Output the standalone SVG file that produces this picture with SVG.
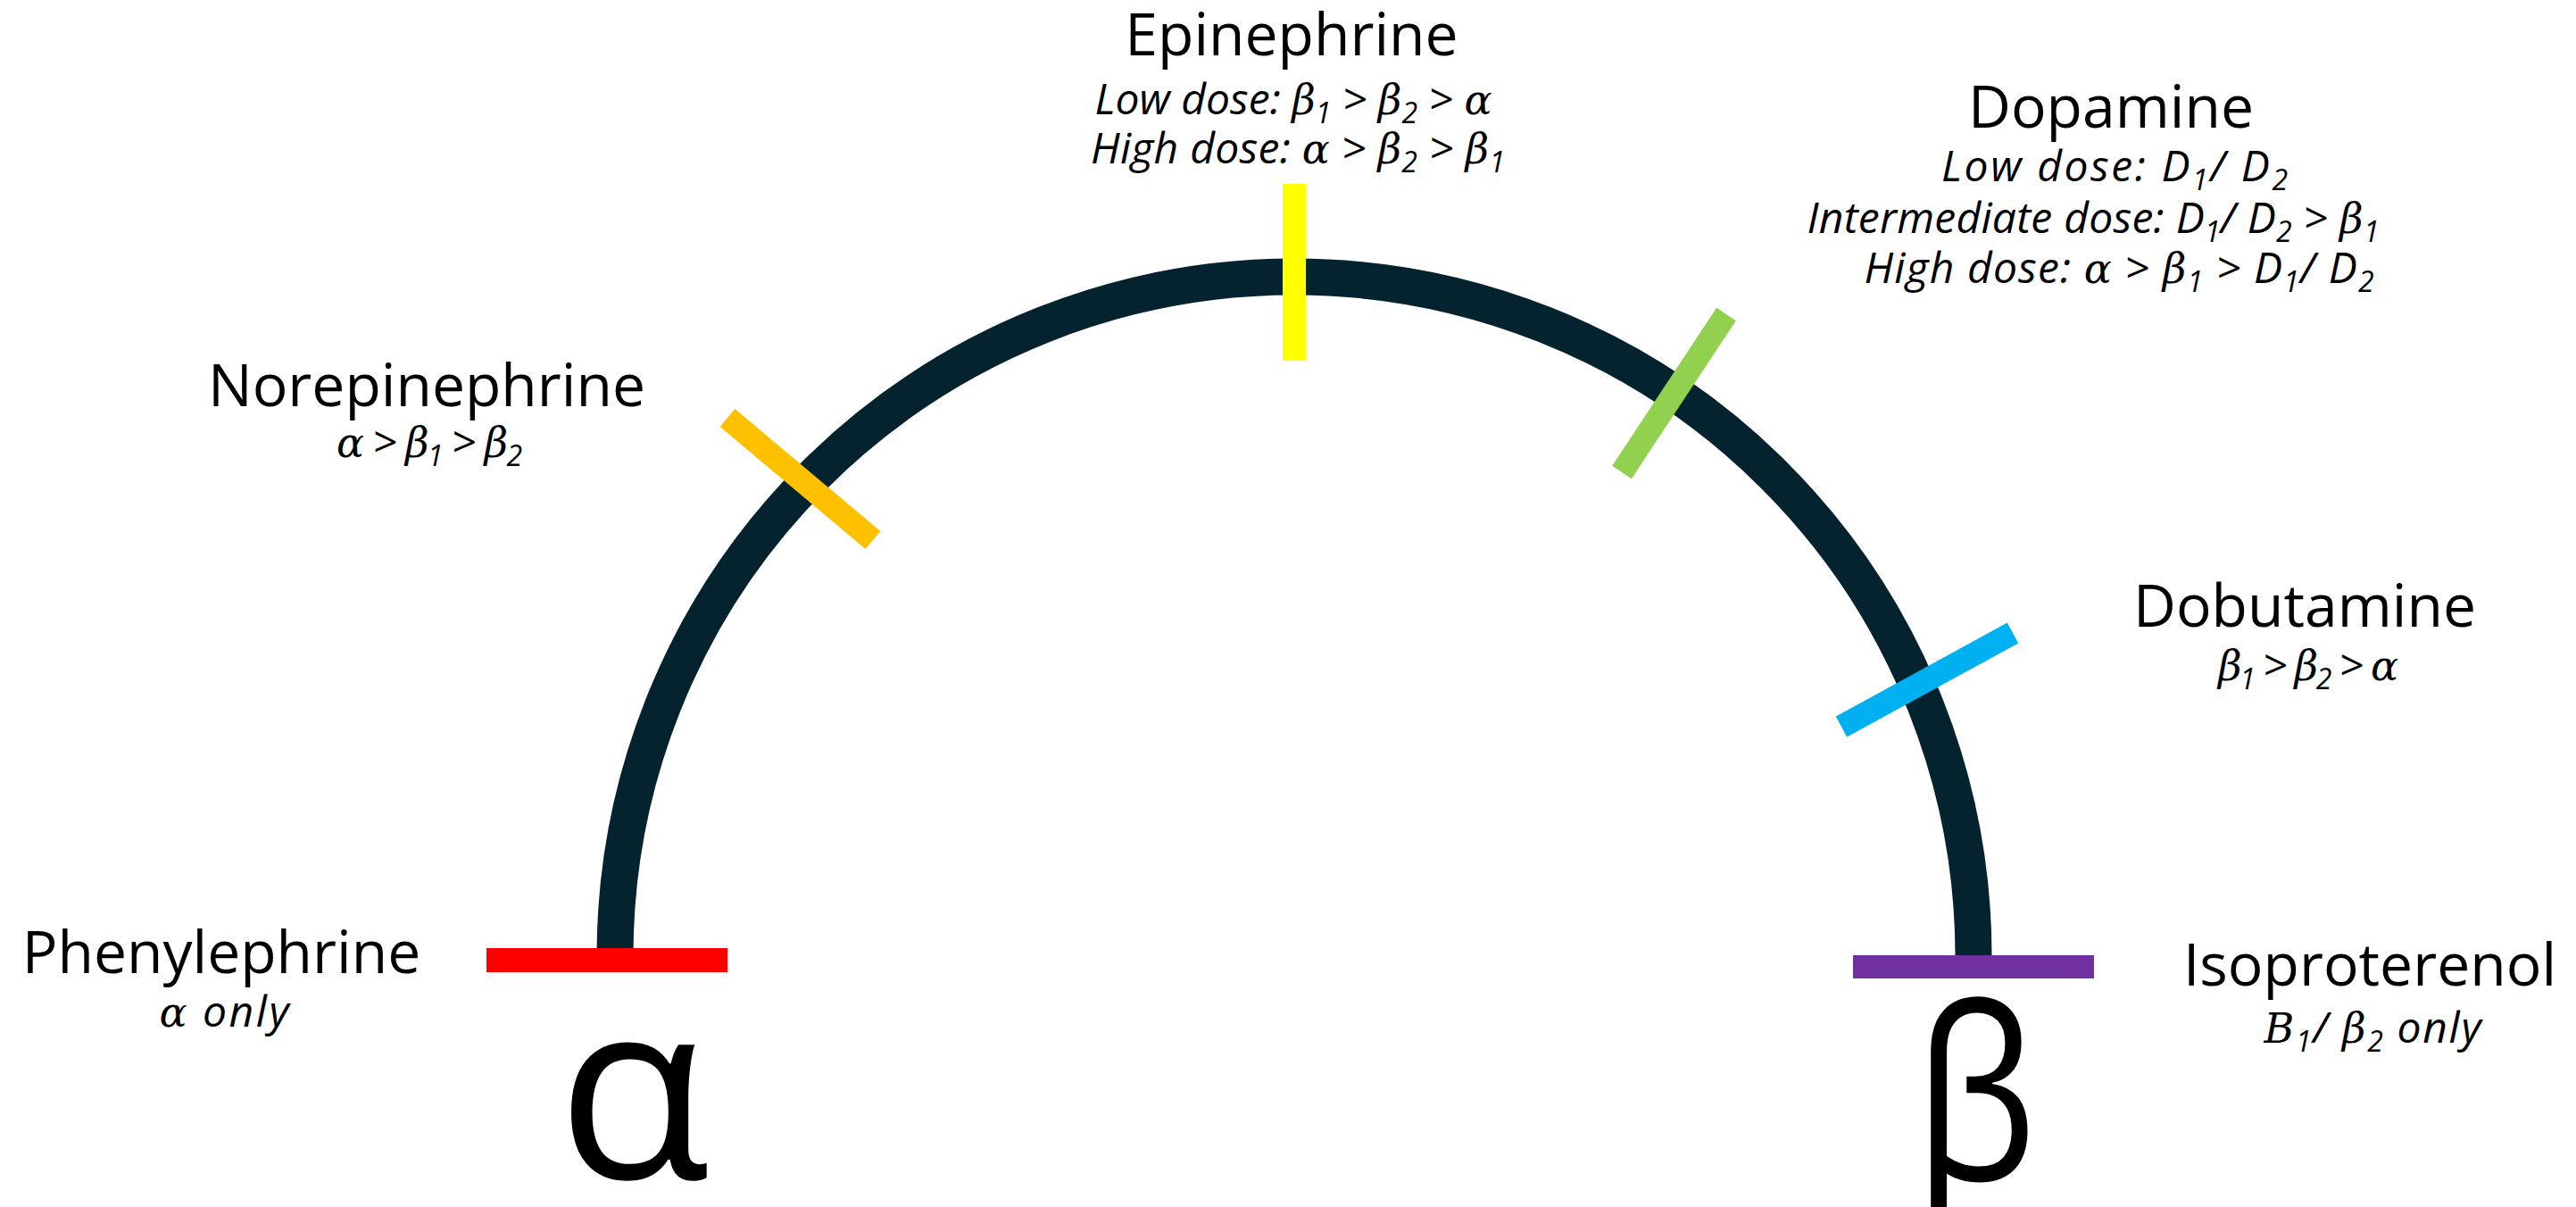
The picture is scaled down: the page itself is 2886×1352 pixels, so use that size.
<svg xmlns="http://www.w3.org/2000/svg" width="2886" height="1352" viewBox="0 0 2886 1352">
<style>
.t{font-family:"Open Sans","Liberation Sans",sans-serif;font-size:66px;fill:#000;text-anchor:middle}
.s{font-family:"Open Sans","Liberation Sans",sans-serif;font-style:italic;font-size:48px;fill:#000;text-anchor:middle}
.g{font-family:"DejaVu Serif","Liberation Serif",serif;font-style:italic;font-size:46px}
.n{font-size:32px}
.big{font-family:"Open Sans","Noto Sans",sans-serif;font-size:280px;fill:#000;text-anchor:middle}
.bar{stroke-width:26;stroke-linecap:butt;fill:none}
</style>
<rect width="2886" height="1352" fill="#fff"/>
<g id="connectors">
<path id="arc" d="M 689 1071 A 761 761 0 0 1 2211 1071" fill="none" stroke="#05222F" stroke-width="41"/>
</g>
<g id="phenylephrine">
<rect x="545" y="1062" width="270" height="27" fill="#FF0000"/>
<text class="t" x="248" y="1090">Phenylephrine</text>
<text class="s" x="251" y="1150" textLength="145" lengthAdjust="spacing"><tspan class="g">α</tspan> only</text>
</g>
<g id="norepinephrine">
<line class="bar" x1="815" y1="468" x2="978" y2="605" stroke="#FFC000"/>
<text class="t" x="478" y="455">Norepinephrine</text>
<text class="s" x="481" y="512" textLength="208" lengthAdjust="spacing"><tspan class="g">α</tspan> &gt; <tspan class="g">β</tspan><tspan class="n" dy="10">1</tspan><tspan dy="-10"> &gt; </tspan><tspan class="g">β</tspan><tspan class="n" dy="10">2</tspan></text>
</g>
<g id="epinephrine">
<rect x="1437" y="206" width="26" height="198" fill="#FFFF00"/>
<text class="t" x="1447" y="62">Epinephrine</text>
<text class="s" x="1449" y="128" textLength="445" lengthAdjust="spacing">Low dose: <tspan class="g">β</tspan><tspan class="n" dy="10">1</tspan><tspan dy="-10"> &gt; </tspan><tspan class="g">β</tspan><tspan class="n" dy="10">2</tspan><tspan dy="-10"> &gt; </tspan><tspan class="g">α</tspan></text>
<text class="s" x="1454" y="183" textLength="464" lengthAdjust="spacing">High dose: <tspan class="g">α</tspan> &gt; <tspan class="g">β</tspan><tspan class="n" dy="10">2</tspan><tspan dy="-10"> &gt; </tspan><tspan class="g">β</tspan><tspan class="n" dy="10">1</tspan></text>
</g>
<g id="dopamine">
<line class="bar" x1="1934" y1="352" x2="1817" y2="529" stroke="#92D050"/>
<text class="t" x="2365" y="143">Dopamine</text>
<text class="s" x="2369" y="203" textLength="388" lengthAdjust="spacing">Low dose: D<tspan class="n" dy="10">1</tspan><tspan dy="-10">/ D</tspan><tspan class="n" dy="10">2</tspan></text>
<text class="s" x="2345" y="261" textLength="641" lengthAdjust="spacing">Intermediate dose: D<tspan class="n" dy="10">1</tspan><tspan dy="-10">/ D</tspan><tspan class="n" dy="10">2</tspan><tspan dy="-10"> &gt; </tspan><tspan class="g">β</tspan><tspan class="n" dy="10">1</tspan></text>
<text class="s" x="2374" y="317" textLength="571" lengthAdjust="spacing">High dose: <tspan class="g">α</tspan> &gt; <tspan class="g">β</tspan><tspan class="n" dy="10">1</tspan><tspan dy="-10"> &gt; D</tspan><tspan class="n" dy="10">1</tspan><tspan dy="-10">/ D</tspan><tspan class="n" dy="10">2</tspan></text>
</g>
<g id="dobutamine">
<line class="bar" x1="2255" y1="709" x2="2063" y2="814" stroke="#00B0F0"/>
<text class="t" x="2582" y="702">Dobutamine</text>
<text class="s" x="2586" y="762" textLength="202" lengthAdjust="spacing"><tspan class="g">β</tspan><tspan class="n" dy="10">1</tspan><tspan dy="-10"> &gt; </tspan><tspan class="g">β</tspan><tspan class="n" dy="10">2</tspan><tspan dy="-10"> &gt; </tspan><tspan class="g">α</tspan></text>
</g>
<g id="isoproterenol">
<rect x="2076" y="1070" width="270" height="26" fill="#7030A0"/>
<text class="t" x="2655" y="1104">Isoproterenol</text>
<text class="s" x="2658" y="1168" textLength="243" lengthAdjust="spacing"><tspan class="g">B</tspan><tspan class="n" dy="10">1</tspan><tspan dy="-10">/ </tspan><tspan class="g">β</tspan><tspan class="n" dy="10">2</tspan><tspan dy="-10"> only</tspan></text>
</g>
<g id="alpha-label">
<text class="big" x="710" y="1320">α</text>
</g>
<g id="beta-label">
<text class="big" transform="translate(2213,1322) scale(0.78,0.96)" x="0" y="0">β</text>
</g>
</svg>
